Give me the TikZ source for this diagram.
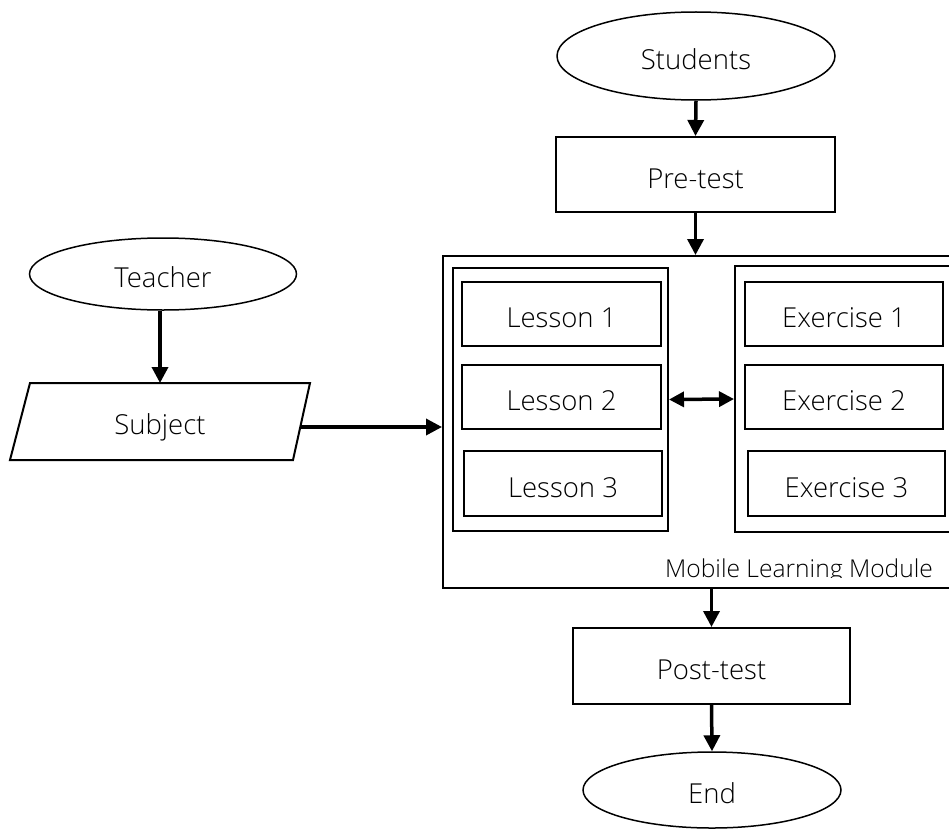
\documentclass[tikz,border=0pt]{standalone}
\usepackage{fontspec}
\IfFontExistsTF{Open Sans Light}{\setmainfont{Open Sans Light}}{\setmainfont{Noto Sans}}
\usetikzlibrary{shapes.geometric,arrows.meta}
\begin{document}
\begin{tikzpicture}[x=1pt,y=-1pt,
  lowtext/.style={text height=27pt,text depth=0pt},
  term/.style={ellipse,draw,line width=1.5pt,inner sep=0pt,lowtext,font=\fontsize{27.5}{32}\selectfont},
  proc/.style={rectangle,draw,line width=2pt,inner sep=0pt,lowtext,font=\fontsize{27.5}{32}\selectfont},
  cont/.style={rectangle,draw,line width=2pt,inner sep=0pt},
  arr/.style={line width=3.5pt,-{Triangle[length=16pt,width=16pt]}},
  darr/.style={line width=3.5pt,{Triangle[length=15pt,width=15pt]}-{Triangle[length=15pt,width=15pt]}},
  txt/.style={font=\fontsize{27.5}{32}\selectfont,inner sep=0pt,lowtext}]
\useasboundingbox (0,0) rectangle (949,832);
\fill[white] (0,0) rectangle (949,832);
\clip (0,0) rectangle (949,832);
% top flow
\node[term,minimum width=278pt,minimum height=88pt] (students) at (696,56) {Students};
\node[proc,minimum width=279pt,minimum height=75pt] (pre) at (695.5,174.5) {Pre-test};
% module
\node[cont,minimum width=517pt,minimum height=332pt] (module) at (701.5,422) {};
\node[cont,minimum width=215pt,minimum height=263pt] (lessons) at (560.5,399.5) {};
\node[cont,minimum width=225pt,minimum height=266pt] (exercises) at (847.5,399) {};
\node[proc,minimum width=199pt,minimum height=64pt] (l1) at (561.5,314) {Lesson 1};
\node[proc,minimum width=199pt,minimum height=64pt] (l2) at (561.5,397) {Lesson 2};
\node[proc,minimum width=198pt,minimum height=65pt] (l3) at (563,483.5) {Lesson 3};
\node[proc,minimum width=198pt,minimum height=64pt] (e1) at (844,314) {Exercise 1};
\node[proc,minimum width=198pt,minimum height=64pt] (e2) at (844,397) {Exercise 2};
\node[proc,minimum width=197pt,minimum height=65pt] (e3) at (846.5,483.5) {Exercise 3};
\begin{scope}
\clip (600,540) rectangle (949,577.5);
\node[anchor=base west,inner sep=0pt,font=\fontsize{24.6}{28}\selectfont] (mlabel) at (665,577) {Mobile Learning Module};
\end{scope}
% teacher side
\node[term,minimum width=267pt,minimum height=72pt] (teacher) at (163,274) {Teacher};
\draw[line width=2pt] (30,383) -- (310,383) -- (293,460) -- (10,460) -- cycle;
\node[txt] (subject) at (160,421) {Subject};
\coordinate (subjT) at (160,383);
\coordinate (subjR) at (300,427);
% bottom flow
\node[proc,minimum width=277pt,minimum height=76pt] (post) at (711.5,666) {Post-test};
\node[term,minimum width=258pt,minimum height=76pt] (end) at (712,790) {End};
% connectors
\draw[arr] (students.south) -- (pre.north);
\draw[arr] (pre.south) -- (pre.south |- module.north);
\draw[arr] (teacher.south -| subjT) -- (subjT);
\draw[arr] (subjR) -- (subjR -| module.west);
\draw[darr] (lessons.east) -- (exercises.west);
\draw[arr] (post.north |- module.south) -- (post.north);
\draw[arr] (post.south) -- (end.north);
\end{tikzpicture}
\end{document}
